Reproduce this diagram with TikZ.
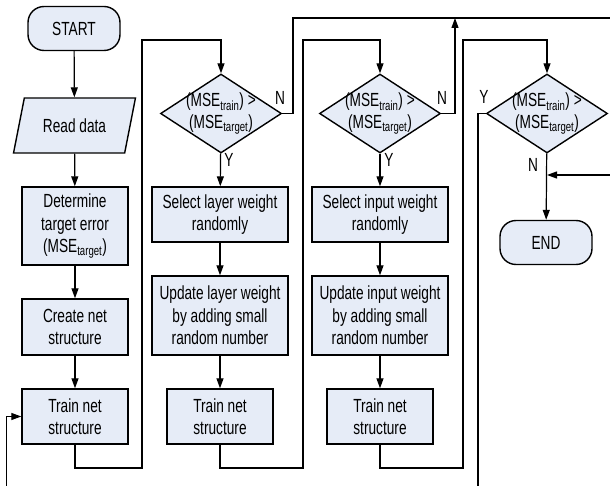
\documentclass[tikz,border=0pt]{standalone}
\usepackage{fontspec}
\setmainfont{Liberation Sans}[FakeStretch=0.72]
\usepackage{tikz}
\usetikzlibrary{shapes.geometric, arrows.meta, positioning, calc}
\definecolor{boxblue}{RGB}{230,236,247}

\begin{document}
\begin{tikzpicture}[x=1pt, y=-1pt,
            every node/.style={font=\fontsize{19}{22.5}\selectfont},
            process/.style={draw, line width=1.4pt, fill=boxblue, align=center, inner sep=0pt},
            terminal/.style={draw, line width=1.4pt, fill=boxblue, rounded corners=16pt,
                minimum width=92pt, minimum height=44pt},
            io/.style={draw, line width=1.4pt, fill=boxblue, trapezium, trapezium left angle=70,
                trapezium right angle=110, trapezium stretches=true,
                minimum width=123pt, minimum height=55pt},
            decision/.style={draw, line width=1.4pt, fill=boxblue, diamond, inner sep=0pt,
                minimum width=121pt, minimum height=79pt},
            dectext/.style={align=center, inner sep=0pt},
            line/.style={-{Triangle[length=10pt,width=7pt]}, line width=1.2pt}]
            \useasboundingbox (0,0) rectangle (610,486);

            % first column
            \node[terminal] (start) at (74,28.5) {START};
            \node[io] (read) at (74.5,125.5) {Read data};
            \node[process, minimum width=106pt, minimum height=78pt] (det) at (75,226)
                {Determine\\target error\\(MSE\textsubscript{target})};
            \node[process, minimum width=106pt, minimum height=56pt] (create) at (75,327)
                {Create net\\structure};
            \node[process, minimum width=106pt, minimum height=55pt] (train1) at (75,416.5)
                {Train net\\structure};

            % layer weight column
            \node[decision, label={[dectext]center:{(MSE\textsubscript{train}) >\\(MSE\textsubscript{target})}}]
                (dec1) at (221,113.5) {};
            \node[process, minimum width=136pt, minimum height=55pt] (sel1) at (220,214.5)
                {Select layer weight\\randomly};
            \node[process, minimum width=136pt, minimum height=79pt] (upd1) at (220,315.5)
                {Update layer weight\\by adding small\\random number};
            \node[process, minimum width=106pt, minimum height=55pt] (train2) at (220,416.5)
                {Train net\\structure};

            % input weight column
            \node[decision, label={[dectext]center:{(MSE\textsubscript{train}) >\\(MSE\textsubscript{target})}}]
                (dec2) at (380,113.5) {};
            \node[process, minimum width=136pt, minimum height=55pt] (sel2) at (380,214.5)
                {Select input weight\\randomly};
            \node[process, minimum width=136pt, minimum height=79pt] (upd2) at (380,315.5)
                {Update input weight\\by adding small\\random number};
            \node[process, minimum width=106pt, minimum height=55pt] (train3) at (380,416.5)
                {Train net\\structure};

            % last check
            \node[decision, label={[dectext]center:{(MSE\textsubscript{train}) >\\(MSE\textsubscript{target})}}]
                (dec3) at (547,113.5) {};
            \node[terminal] (end) at (546,242.5) {END};
            \coordinate (njoin) at (547,175);

            % Y / N labels
            \node (n1) at (280,98) {N};
            \node (y1) at (229,160) {Y};
            \node (n2) at (442,98) {N};
            \node (y2) at (389,160) {Y};
            \node (y3) at (484,97) {Y};
            \node (n3) at (533,165) {N};

            % arrows
            \draw[line] (start) -- (read);
            \draw[line] (read) -- (det);
            \draw[line] (det) -- (create);
            \draw[line] (create) -- (train1);
            \draw[line] (train1.south) |- (142,468) -- (142,40) -| (dec1.north);
            \draw[line] (dec1) -- (sel1);
            \draw[line] (sel1) -- (upd1);
            \draw[line] (upd1) -- (train2);
            \draw[line] (train2.south) |- (303,468) -- (303,40) -| (dec2.north);
            \draw[line] (dec2) -- (sel2);
            \draw[line] (sel2) -- (upd2);
            \draw[line] (upd2) -- (train3);
            \draw[line] (train3.south) |- (463,468) -- (463,40) -| (dec3.north);
            \draw[line] (dec3) -- (end);
            \draw[line] (dec1.east) -- (293,113.5) |- (620,18) |- (njoin);
            \draw[line] (dec2.east) -| (455,18);
            \draw[line] (dec3.west) -| (478,500) -| ([xshift=-15pt]train1.west) -- (train1.west);
        \end{tikzpicture}
\end{document}
